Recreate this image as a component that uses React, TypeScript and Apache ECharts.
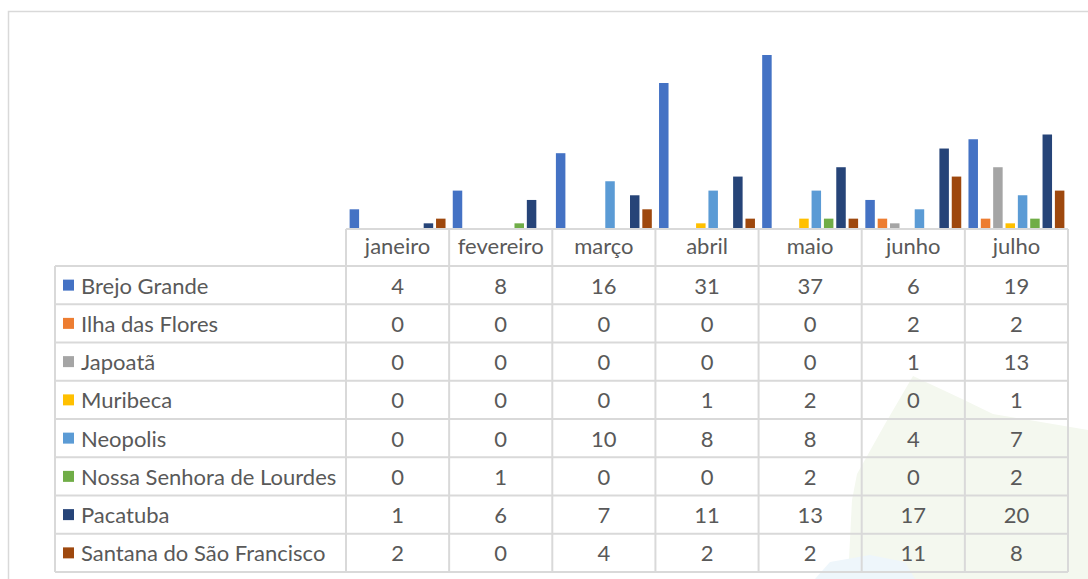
import React, { useEffect, useRef } from "react";
import * as echarts from "echarts";

const months = ["janeiro", "fevereiro", "março", "abril", "maio", "junho", "julho"];
const seriesNames = [
  "Brejo Grande",
  "Ilha das Flores",
  "Japoatã",
  "Muribeca",
  "Neopolis",
  "Nossa Senhora de Lourdes",
  "Pacatuba",
  "Santana do São Francisco",
];
const brejoGrande = [4, 8, 16, 31, 37, 6, 19];
const ilhaDasFlores = [0, 0, 0, 0, 0, 2, 2];
const japoata = [0, 0, 0, 0, 0, 1, 13];
const muribeca = [0, 0, 0, 1, 2, 0, 1];
const neopolis = [0, 0, 10, 8, 8, 4, 7];
const nossaSenhora = [0, 1, 0, 0, 2, 0, 2];
const pacatuba = [1, 6, 7, 11, 13, 17, 20];
const santana = [2, 0, 4, 2, 2, 11, 8];
const seriesValues = [brejoGrande, ilhaDasFlores, japoata, muribeca, neopolis, nossaSenhora, pacatuba, santana];
const colors = ["#4472C4", "#ED7D31", "#A5A5A5", "#FFC000", "#5B9BD5", "#70AD47", "#264478", "#9E480E"];

export default function App() {
  const ref = useRef<HTMLDivElement>(null);
  useEffect(() => {
    if (!ref.current) return;
    const chart = echarts.init(ref.current, null, { renderer: "svg" });
    const font = "Lato";
    const fontSize = 22;
    const textColor = "#595959";
    const lineColor = "#d9d9d9";
    const gridLeft = 346;
    const gridRight = 1068;
    const colW = (gridRight - gridLeft) / months.length;
    const headerTop = 229;
    const headerBottom = 266;
    const tableBottom = 572;
    const legendLeft = 55;
    const rowH = (tableBottom - headerBottom) / seriesNames.length;

    const graphics: any[] = [];
    graphics.push({
      type: "polygon",
      silent: true,
      z: -10,
      shape: {
        points: [
          [913, 376], [960, 398], [993, 414], [1088, 430], [1088, 579], [848, 579], [852, 500], [857, 474], [885, 424],
        ],
      },
      style: { fill: "#f4f8ef" },
    });
    graphics.push({
      type: "polygon",
      silent: true,
      z: -9,
      shape: { points: [[815, 579], [830, 562], [870, 555], [905, 562], [915, 579]] },
      style: { fill: "#eef6fb" },
    });
    graphics.push({
      type: "rect",
      silent: true,
      shape: { x: 8.5, y: 11.5, width: 1200, height: 700 },
      style: { fill: "none", stroke: lineColor, lineWidth: 1.5 },
    });
    graphics.push({
      type: "line",
      shape: { x1: gridLeft, y1: headerTop, x2: gridRight, y2: headerTop },
      style: { stroke: lineColor, lineWidth: 2 },
    });
    for (let k = 0; k <= seriesNames.length; k++) {
      const y = headerBottom + k * rowH;
      graphics.push({
        type: "line",
        shape: { x1: legendLeft, y1: y, x2: gridRight, y2: y },
        style: { stroke: lineColor, lineWidth: 2 },
      });
    }
    graphics.push({
      type: "line",
      shape: { x1: legendLeft, y1: headerBottom, x2: legendLeft, y2: tableBottom },
      style: { stroke: lineColor, lineWidth: 2 },
    });
    for (let j = 0; j <= months.length; j++) {
      const x = gridLeft + j * colW;
      graphics.push({
        type: "line",
        shape: { x1: x, y1: headerTop, x2: x, y2: tableBottom },
        style: { stroke: lineColor, lineWidth: 2 },
      });
    }
    seriesNames.forEach((name, i) => {
      const cy = headerBottom + (i + 0.5) * rowH;
      graphics.push({
        type: "rect",
        shape: { x: 63, y: cy - 5.5, width: 11, height: 11 },
        style: { fill: colors[i] },
      });
      graphics.push({
        type: "text",
        x: 81,
        y: cy,
        style: {
          text: name,
          fill: textColor,
          font: `${fontSize}px ${font}`,
          verticalAlign: "middle",
          align: "left",
        },
      });
      seriesValues[i].forEach((v, j) => {
        graphics.push({
          type: "text",
          x: gridLeft + (j + 0.5) * colW,
          y: cy,
          style: {
            text: String(v),
            fill: textColor,
            font: `${fontSize}px ${font}`,
            verticalAlign: "middle",
            align: "center",
          },
        });
      });
    });

    chart.setOption({
      animation: false,
      grid: { left: gridLeft, top: 41, width: gridRight - gridLeft, height: 228 - 41, containLabel: false },
      xAxis: {
        type: "category",
        data: months,
        axisLine: { show: false },
        axisTick: { show: false },
        axisLabel: { color: textColor, fontFamily: font, fontSize, margin: 6, interval: 0, hideOverlap: false },
      },
      yAxis: {
        type: "value",
        min: 0,
        max: 40,
        show: false,
        splitLine: { show: false },
      },
      series: seriesNames.map((name, i) => ({
        type: "bar",
        name,
        data: seriesValues[i],
        itemStyle: { color: colors[i] },
        barGap: "30%",
        barCategoryGap: "7%",
      })),
      graphic: graphics,
    });
    return () => chart.dispose();
  }, []);
  return <div ref={ref} style={{ position: "absolute", left: 0, top: 0, width: 1088, height: 579 }} />;
}
